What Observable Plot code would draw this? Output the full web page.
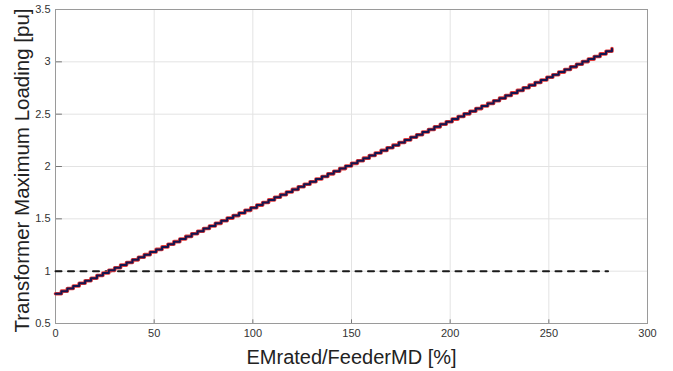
<!DOCTYPE html>
<html>
<head>
<meta charset="utf-8">
<script src="https://cdn.jsdelivr.net/npm/d3@7"></script>
<script src="https://cdn.jsdelivr.net/npm/@observablehq/plot@0.6"></script>
<style>
  html, body { margin: 0; padding: 0; background: #fff; }
  #chart { width: 673px; height: 371px; }
  #chart svg { overflow: visible; }
</style>
</head>
<body>
<div id="chart"></div>
<script>
const emRatio = [0,3,6,9,12,15,18,21,24,27,30,33,36,39,42,45,48,51,54,57,60,63,66,69,72,75,78,81,84,87,90,93,96,99,102,105,108,111,114,117,120,123,126,129,132,135,138,141,144,147,150,153,156,159,162,165,168,171,174,177,180,183,186,189,192,195,198,201,204,207,210,213,216,219,222,225,228,231,234,237,240,243,246,249,252,255,258,261,264,267,270,273,276,279,282];
const maxLoading = [0.784,0.809,0.834,0.859,0.884,0.909,0.933,0.958,0.983,1.008,1.033,1.058,1.083,1.108,1.133,1.158,1.183,1.208,1.232,1.257,1.282,1.307,1.332,1.357,1.382,1.407,1.432,1.457,1.482,1.507,1.531,1.556,1.581,1.606,1.631,1.656,1.681,1.706,1.731,1.756,1.781,1.806,1.830,1.855,1.880,1.905,1.930,1.955,1.980,2.005,2.030,2.055,2.080,2.105,2.129,2.154,2.179,2.204,2.229,2.254,2.279,2.304,2.329,2.354,2.379,2.404,2.428,2.453,2.478,2.503,2.528,2.553,2.578,2.603,2.628,2.653,2.678,2.703,2.727,2.752,2.777,2.802,2.827,2.852,2.877,2.902,2.927,2.952,2.977,3.002,3.026,3.051,3.076,3.101,3.126];
const limitX = [0, 280];
const limitY = [1, 1];
const xTicks = [0, 50, 100, 150, 200, 250, 300];
const yTicks = [0.5, 1, 1.5, 2, 2.5, 3, 3.5];
const xLabel = "EMrated/FeederMD [%]";
const yLabel = "Transformer Maximum Loading [pu]";

const series = emRatio.map((x, i) => ({x, y: maxLoading[i]}));
const limit = limitX.map((x, i) => ({x, y: limitY[i]}));

const chart = Plot.plot({
  width: 673,
  height: 371,
  marginLeft: 55,
  marginRight: 26,
  marginTop: 9,
  marginBottom: 48,
  style: {fontFamily: "Liberation Sans, Arial, sans-serif", fontSize: "11px", color: "#333", background: "#fff", overflow: "visible"},
  x: {domain: [0, 300]},
  y: {domain: [0.5, 3.5]},
  marks: [
    Plot.gridX(xTicks, {stroke: "#e3e3e3", strokeOpacity: 1}),
    Plot.gridY(yTicks, {stroke: "#e3e3e3", strokeOpacity: 1}),
    Plot.ruleX(xTicks, {y1: 0.5, y2: 0.535, stroke: "#777"}),
    Plot.ruleY(yTicks, {x1: 0, x2: 3.5, stroke: "#777"}),
    Plot.frame({stroke: "#9a9a9a"}),
    Plot.axisX(xTicks, {tickSize: 0, tickPadding: 6, fontSize: 11, fill: "#333", label: null, tickFormat: d => String(d)}),
    Plot.axisY(yTicks, {tickSize: 0, tickPadding: 5, fontSize: 11, fill: "#333", label: null, tickFormat: d => String(d)}),
    Plot.line(limit, {x: "x", y: "y", stroke: "#1a1a1a", strokeWidth: 2, strokeDasharray: "6,6.5"}),
    Plot.line(series, {x: "x", y: "y", curve: "step-after", stroke: "#e23b3b", strokeWidth: 3.6}),
    Plot.line(series, {x: "x", y: "y", curve: "step-after", stroke: "#15154f", strokeWidth: 2}),
    Plot.text([xLabel], {frameAnchor: "bottom", dy: 40, fontSize: 20, fill: "#222", fontFamily: "Liberation Sans, Arial, sans-serif"}),
    Plot.text([yLabel], {frameAnchor: "left", textAnchor: "middle", dx: -33, dy: 4, rotate: -90, fontSize: 20.5, fill: "#222", fontFamily: "Liberation Sans, Arial, sans-serif"})
  ]
});
document.getElementById("chart").appendChild(chart);
</script>
</body>
</html>
